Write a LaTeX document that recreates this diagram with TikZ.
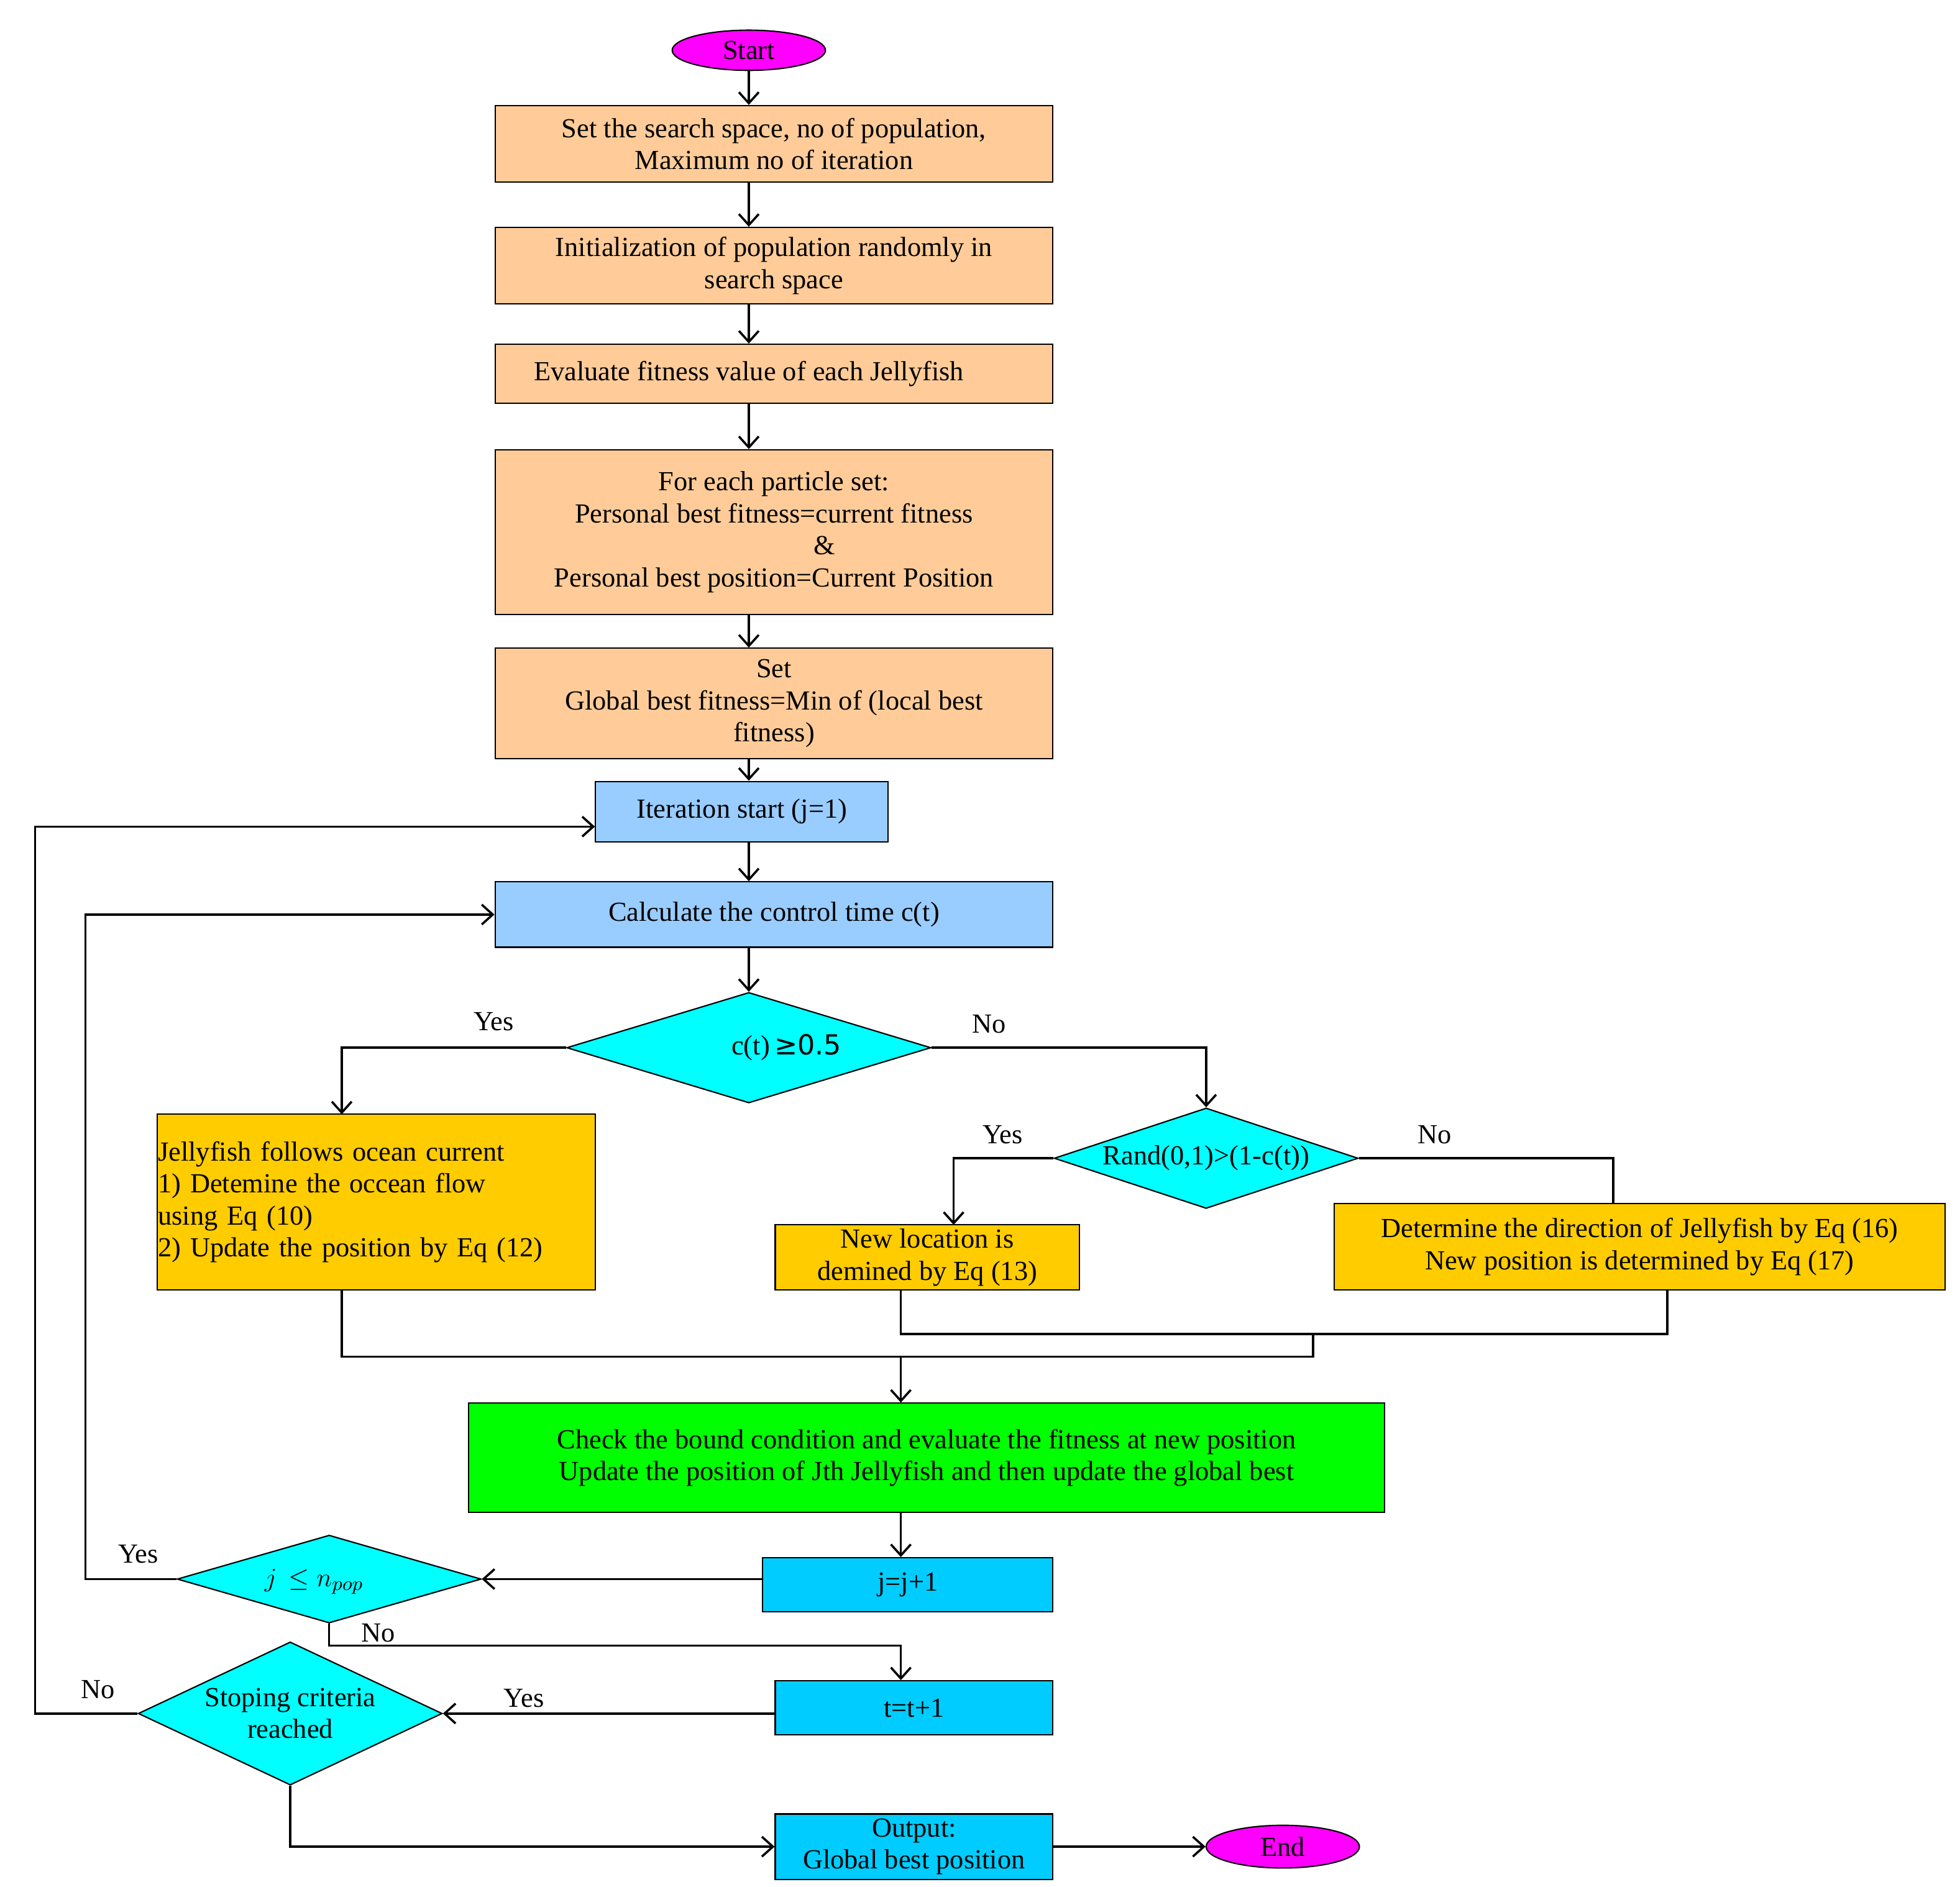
\documentclass[tikz,border=0pt]{standalone}
\usepackage{fontspec}
\setmainfont{Liberation Serif}
\usetikzlibrary{shapes.geometric,arrows.meta}
\definecolor{cCyan}{RGB}{0,255,255}
\definecolor{cMag}{RGB}{255,0,255}
\definecolor{cOrg}{RGB}{255,204,153}
\definecolor{cBlu}{RGB}{153,204,255}
\definecolor{cSky}{RGB}{0,204,255}
\definecolor{cYel}{RGB}{255,204,0}
\definecolor{cGrn}{RGB}{0,255,0}
\begin{document}
\begin{tikzpicture}[x=0.02cm,y=-0.02cm,
  every node/.style={font=\fontsize{12.5}{14.5}\selectfont},
  box/.style={draw,rectangle,inner sep=0pt,align=center,line width=0.6pt},
  org/.style={box,fill=cOrg},
  blu/.style={box,fill=cBlu},
  cya/.style={box,fill=cSky},
  yel/.style={box,fill=cYel},
  dia/.style={draw,diamond,inner sep=0pt,fill=cCyan,line width=0.6pt},
  ell/.style={draw,ellipse,inner sep=0pt,fill=cMag,line width=0.6pt},
  arr/.style={-{Straight Barb[length=5pt,width=9pt]},line width=1pt},
  ln/.style={line width=1pt},
  lab/.style={inner sep=0pt}]
\useasboundingbox (0,0) rectangle (1560,1502);
\node[ell,minimum width=2.44cm,minimum height=0.64cm] (start) at (596,40) {Start};
\node[org,minimum width=8.88cm,minimum height=1.22cm] (b1) at (616,114.5) {Set the search space, no of population,\\Maximum no of iteration};
\node[org,minimum width=8.88cm,minimum height=1.22cm] (b2) at (616,211.5) {Initialization of population randomly in\\search space};
\node[org,minimum width=8.88cm,minimum height=0.94cm] (b3) at (616,297.5) {Evaluate fitness value of each Jellyfish\hspace*{0.8cm}};
\node[org,minimum width=8.88cm,minimum height=2.62cm] (b4) at (616,423.5) {For each particle set:\\Personal best fitness=current fitness\\\hspace*{1.6cm}\&\\Personal best position=Current Position};
\node[org,minimum width=8.88cm,minimum height=1.76cm] (b5) at (616,560) {Set\\Global best fitness=Min of (local best\\fitness)};
\node[blu,minimum width=4.66cm,minimum height=0.96cm] (it) at (590.5,646) {Iteration start (j=1)};
\node[blu,minimum width=8.88cm,minimum height=1.04cm] (calc) at (616,728) {Calculate the control time c(t)};
\node[dia,minimum width=5.8cm,minimum height=1.76cm] (d1) at (596,834) {};
\node[lab] at (626,834) {c(t)\,{\fontspec{DejaVu Sans}≥0.5}};
\node[yel,minimum width=6.98cm,minimum height=2.8cm,align=left,text width=6.95cm] (jelly) at (299.5,957) {Jellyfish follows ocean current\\1) Detemine the occean flow\\using Eq (10)\\2) Update the position by Eq (12)};
\node[dia,minimum width=4.84cm,minimum height=1.6cm] (d2) at (960,922) {};
\node[lab] at (960,922) {Rand(0,1)>(1-c(t))};
\node[yel,minimum width=4.84cm,minimum height=1.04cm] (nl) at (738,1001) {New location is\\demined by Eq (13)};
\node[yel,minimum width=9.72cm,minimum height=1.38cm] (det) at (1305,992.5) {Determine the direction of Jellyfish by Eq (16)\\New position is determined by Eq (17)};
\node[box,fill=cGrn,minimum width=14.58cm,minimum height=1.74cm] (gr) at (737.5,1160.5) {Check the bound condition and evaluate the fitness at new position\\Update the position of Jth Jellyfish and then update the global best};
\node[cya,minimum width=4.62cm,minimum height=0.86cm] (jj) at (722.5,1261.5) {j=j+1};
\node[dia,minimum width=4.84cm,minimum height=1.4cm] (d3) at (262,1257) {};
\node[lab] at (250,1259) {$j\,\leq n_{pop}$};
\node[cya,minimum width=4.42cm,minimum height=0.86cm] (tt) at (727.5,1359.5) {t=t+1};
\node[dia,minimum width=4.84cm,minimum height=2.28cm] (d4) at (231,1364) {};
\node[lab,align=center] at (231,1364) {Stoping criteria\\reached};
\node[cya,minimum width=4.42cm,minimum height=1.04cm] (out) at (727.5,1470) {Output:\\Global best position};
\node[ell,minimum width=2.44cm,minimum height=0.68cm] (end) at (1021,1470) {End};
% labels
\node[lab] at (393,813) {Yes};
\node[lab] at (787,815) {No};
\node[lab] at (798,903) {Yes};
\node[lab] at (1142,903) {No};
\node[lab] at (110,1237) {Yes};
\node[lab] at (301,1300) {No};
\node[lab] at (417,1352) {Yes};
\node[lab] at (78,1345) {No};
% connectors
\draw[arr] (start.south) -- (b1.north -| start);
\draw[arr] (b1.south -| start) -- (b2.north -| start);
\draw[arr] (b2.south -| start) -- (b3.north -| start);
\draw[arr] (b3.south -| start) -- (b4.north -| start);
\draw[arr] (b4.south -| start) -- (b5.north -| start);
\draw[arr] (b5.south -| start) -- (it.north -| start);
\draw[arr] (it.south -| start) -- (calc.north -| start);
\draw[arr] (calc.south -| start) -- (d1.north);
\coordinate (jt) at (272,887);
\draw[arr] (d1.west) -| (jt);
\draw[arr] (d1.east) -| (d2.north);
\coordinate (nt) at (759,975);
\draw[arr] (d2.west) -| (nt);
\coordinate (dt) at (1284,958);
\draw[ln] (d2.east) -| (dt);
\coordinate (m1) at (1045,1062);
\coordinate (m2) at (717,1080);
\draw[ln] (nl.south -| 717,0) |- (1327,1062) -- (det.south -| 1327,0);
\draw[ln] (jelly.south -| 272,0) |- (1045,1080) -- (m1);
\draw[arr] (m2) -- (gr.north -| m2);
\draw[arr] (gr.south -| m2) -- (jj.north -| m2);
\draw[arr] (jj.west |- d3.east) -- (d3.east);
\draw[arr] (d3.west) -| (68,1000) |- (calc.west);
\draw[arr] (d3.south) -- (262,1310) -| (tt.north -| m2);
\draw[arr] (tt.west |- d4.east) -- (d4.east);
\draw[arr] (d4.west) -| (28,1000) |- (it.west |- 0,658);
\draw[arr] (d4.south) |- (out.west);
\draw[arr] (out.east) -- (end.west);
\end{tikzpicture}
\end{document}
